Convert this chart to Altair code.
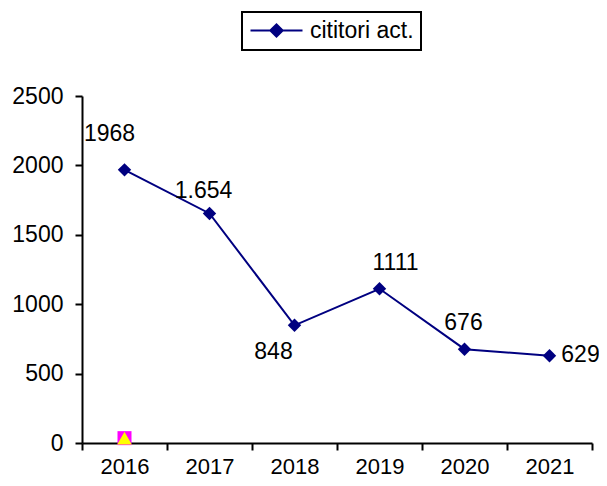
import altair as alt
import pandas as pd

years = ["2016", "2017", "2018", "2019", "2020", "2021"]
readers = [1968, 1654, 848, 1111, 676, 629]
label_texts = ["1968", "1.654", "848", "1111", "676", "629"]
series_name = "cititori act."

marker_years = ["2016"]
marker_values = [35]

y_ticks = [0, 500, 1000, 1500, 2000, 2500]

df = pd.DataFrame({"year": years, "value": readers, "label": label_texts,
                   "series": [series_name] * len(years)})
mk = pd.DataFrame({"year": marker_years, "value": marker_values})

# label offsets (px) relative to each point: styling only
offsets = {"2016": (-15, -36), "2017": (-6, -22), "2018": (-21, 27),
           "2019": (16, -26), "2020": (-1, -26), "2021": (31, -1)}

NAVY = "#000080"
FONT = "Arial"
FS = 23

xenc = alt.X("year:O", bandPosition=0.5,
             scale=alt.Scale(type="band", domain=years, paddingInner=0, paddingOuter=0),
             axis=alt.Axis(title=None, labelAngle=0, tickBand="extent", labelPadding=6,
                           labelFontSize=22))
yenc = alt.Y("value:Q", scale=alt.Scale(domain=[0, 2500], nice=False),
             axis=alt.Axis(title=None, values=y_ticks, format="d", labelPadding=12))

color = alt.Color("series:N", scale=alt.Scale(domain=[series_name], range=[NAVY]),
                  legend=alt.Legend(title=None, orient="none", legendX=160, legendY=-84,
                                    symbolType="M-2.6,0L2.6,0M-0.62,0L0,-0.62L0.62,0L0,0.62Z",
                                    symbolSize=400, symbolStrokeWidth=2, symbolOffset=16,
                                    symbolFillColor=NAVY, symbolStrokeColor=NAVY,
                                    labelFontSize=FS, labelFont=FONT, labelColor="black",
                                    labelOffset=22, padding=7,
                                    strokeColor="black", fillColor="white"))

base = alt.Chart(df)
line = base.mark_line(strokeWidth=2).encode(x=xenc, y=yenc, color=color)
pts = base.mark_point(shape="diamond", filled=True, size=180, opacity=1).encode(x=xenc, y=yenc, color=color)

texts = []
for yr, (dx, dy) in offsets.items():
    texts.append(base.transform_filter(alt.datum.year == yr).mark_text(
        dx=dx, dy=dy, fontSize=FS, font=FONT, color="black", align="center", baseline="middle"
    ).encode(x=xenc, y=yenc, text="label:N"))

msq = alt.Chart(mk).mark_point(shape="square", filled=True, size=196, color="#FF00FF", opacity=1).encode(x=xenc, y=yenc)
mtri = alt.Chart(mk).mark_point(shape="triangle-up", filled=True, size=210, color="#FFFF00", opacity=1).encode(x=xenc, y=yenc)

chart = alt.layer(line, pts, msq, mtri, *texts).properties(
    width=510, height=347,
    autosize=alt.AutoSizeParams(type="none"),
    padding={"left": 74, "top": 88, "right": 7, "bottom": 35},
).configure_view(stroke=None).configure_axis(
    domainColor="black", domainWidth=2, tickColor="black", tickWidth=2, tickSize=7,
    labelFontSize=FS, labelFont=FONT, labelColor="black", grid=False,
).configure_legend(strokeWidth=2)

chart.save("out.html", embed_options={"renderer": "svg", "actions": False})
